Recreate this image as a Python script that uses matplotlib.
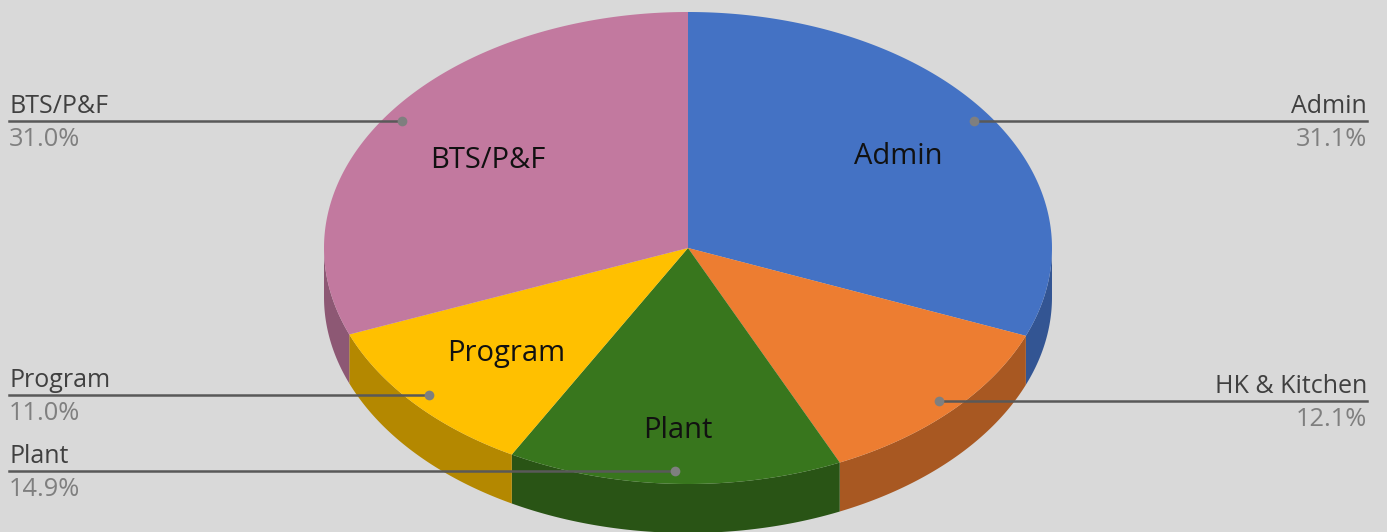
import numpy as np
import matplotlib
matplotlib.use("Agg")
import matplotlib.pyplot as plt

plt.rcParams["font.family"] = ["Open Sans", "DejaVu Sans"]

labels = ["Admin", "HK & Kitchen", "Plant", "Program", "BTS/P&F"]
shares = [31.1, 12.1, 14.9, 11.0, 31.0]
pct_labels = ["31.1%", "12.1%", "14.9%", "11.0%", "31.0%"]
top_colors = ["#4472c4", "#ed7d31", "#38761d", "#ffc000", "#c2799f"]
side_colors = ["#335593", "#a85822", "#295415", "#b48800", "#8d5874"]

W, H = 1387, 532
CX, CY, RX, RY, DEPTH = 688, 248, 364, 236, 49

# inner label positions and the leader line ends, in pixels
inner_pos = [(898, 157), (None, None), (678, 430), (506, 353), (488, 161)]
leaders = {
    "Admin": (974, 121, 1367),
    "HK & Kitchen": (939, 401, 1367),
    "Plant": (675, 471, 9),
    "Program": (429, 395, 9),
    "BTS/P&F": (402, 121, 9),
}


def ellipse_xy(theta):
    # theta clockwise from the top
    return CX + RX * np.sin(theta), CY - RY * np.cos(theta)


fig = plt.figure(figsize=(W / 100, H / 100), dpi=100, facecolor="#d9d9d9")
ax = fig.add_axes([0, 0, 1, 1])
ax.set_xlim(0, W)
ax.set_ylim(H, 0)
ax.axis("off")

edges = np.cumsum([0] + shares) / sum(shares) * 2 * np.pi

# side walls first, only the part of the rim that faces us
for i in range(len(shares)):
    a = max(edges[i], np.pi / 2)
    b = min(edges[i + 1], 3 * np.pi / 2)
    if b <= a:
        continue
    t = np.linspace(a, b, 120)
    x, y = ellipse_xy(t)
    ax.fill(
        np.r_[x, x[::-1]], np.r_[y, y[::-1] + DEPTH], color=side_colors[i], lw=0, zorder=1
    )

# top face
for i in range(len(shares)):
    t = np.linspace(edges[i], edges[i + 1], 200)
    x, y = ellipse_xy(t)
    ax.fill(np.r_[CX, x], np.r_[CY, y], color=top_colors[i], lw=0, zorder=2)

for (x, y), name in zip(inner_pos, labels):
    if x is not None:
        ax.text(x, y, name, fontsize=21, color="#111111", ha="center", va="center", zorder=4)

for i, name in enumerate(labels):
    x0, y0, x1 = leaders[name]
    ax.plot([x0, x1], [y0, y0], color="#595959", lw=1.8, zorder=3)
    ax.plot([x0], [y0], "o", color="#7f7f7f", ms=7, mew=0, zorder=5)
    ha = "right" if x1 > x0 else "left"
    ax.text(x1, y0 - 2, name, fontsize=18, color="#404040", ha=ha, va="bottom", zorder=4)
    ax.text(x1, y0 + 6, pct_labels[i], fontsize=18.3, color="#7f7f7f", ha=ha, va="top", zorder=4)

fig.savefig("out.png", dpi=100, facecolor=fig.get_facecolor())
